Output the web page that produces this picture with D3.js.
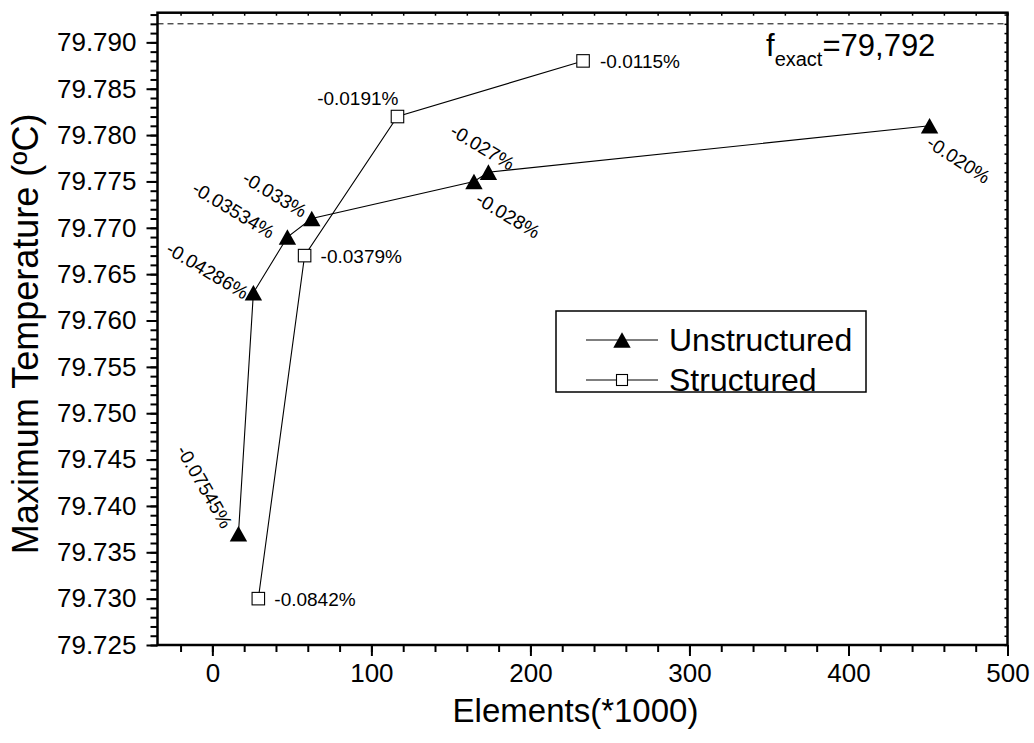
<!DOCTYPE html>
<html>
<head>
<meta charset="utf-8">
<script src="https://cdn.jsdelivr.net/npm/d3@7"></script>
<style>
  html, body { margin: 0; padding: 0; background: #fff; }
  svg { display: block; }
  text { font-family: "Liberation Sans", Arial, Helvetica, sans-serif; fill: #000; }
</style>
</head>
<body>
<svg id="chart" width="1034" height="743"></svg>
<script>
// Mesh convergence: maximum temperature vs. number of elements
const unstructuredElements = [16.4, 25.8, 47.2, 62.5, 164.5, 173.6, 451.0];
const unstructuredTemp     = [79.737, 79.763, 79.769, 79.771, 79.775, 79.776, 79.781];
const unstructuredError    = ["-0.07545%", "-0.04286%", "-0.03534%", "-0.033%", "-0.028%", "-0.027%", "-0.020%"];

const structuredElements = [28.9, 58.0, 116.4, 233.1];
const structuredTemp     = [79.730, 79.767, 79.782, 79.788];
const structuredError    = ["-0.0842%", "-0.0379%", "-0.0191%", "-0.0115%"];

const seriesNames = ["Unstructured", "Structured"];

const xTicks = [0, 100, 200, 300, 400, 500];
const yTicks = [79.725, 79.730, 79.735, 79.740, 79.745, 79.750, 79.755,
                79.760, 79.765, 79.770, 79.775, 79.780, 79.785, 79.790];

const exactTemp = 79.792;
const exactLabel = "79,792";

// Where each error annotation sits relative to its marker (pixels, degrees)
const unstructuredLabelPos = [
  { dx: -34, dy: -47, rot: 60 },
  { dx: -46, dy: -22, rot: 31 },
  { dx: -54, dy: -27, rot: 31 },
  { dx: -37, dy: -24, rot: 31 },
  { dx:  34, dy:  34, rot: 31 },
  { dx:  -6, dy: -25, rot: 31 },
  { dx:  29, dy:  34, rot: 33 }
];
const structuredLabelPos = [
  { dx: 16, dy: 1, anchor: "start" },
  { dx: 16, dy: 1, anchor: "start" },
  { dx: 1, dy: -18, anchor: "end" },
  { dx: 17, dy: 1, anchor: "start" }
];

const plot = { left: 157.5, right: 1007.5, top: 12.7, bottom: 645 };

const svg = d3.select("#chart");

const x = d3.scaleLinear().domain([-34.5, 500]).range([plot.left, plot.right]);
const y = d3.scaleLinear().domain([79.725, 79.7932]).range([plot.bottom, plot.top]);

// ---- axes ----
function styleAxis(g, width) {
  g.select(".domain").remove();
  g.selectAll(".tick line").attr("stroke", "#000").attr("stroke-width", width);
}
const fontFamily = '"Liberation Sans", Arial, sans-serif';

const minorY = d3.range(0, 69).map(i => 79.725 + i * 0.001);
const minorX = d3.range(-1, 26).map(i => i * 20);

// left: minor then major
svg.append("g").attr("transform", `translate(${plot.left},0)`)
  .call(d3.axisLeft(y).tickValues(minorY).tickSize(7).tickFormat(""))
  .call(g => styleAxis(g, 2));
svg.append("g").attr("transform", `translate(${plot.left},0)`)
  .call(d3.axisLeft(y).tickValues(yTicks).tickSize(11).tickPadding(10).tickFormat(d3.format(".3f")))
  .call(g => styleAxis(g, 2))
  .call(g => g.selectAll("text").attr("font-size", 26).style("font-family", fontFamily));

// bottom
svg.append("g").attr("transform", `translate(0,${plot.bottom})`)
  .call(d3.axisBottom(x).tickValues(minorX).tickSize(7).tickFormat(""))
  .call(g => styleAxis(g, 2));
svg.append("g").attr("transform", `translate(0,${plot.bottom})`)
  .call(d3.axisBottom(x).tickValues(xTicks).tickSize(11).tickPadding(8).tickFormat(d3.format("d")))
  .call(g => styleAxis(g, 2))
  .call(g => g.selectAll("text").attr("font-size", 26).style("font-family", fontFamily));

// top and right: short inward ticks
svg.append("g").attr("transform", `translate(0,${plot.top})`)
  .call(d3.axisTop(x).tickValues(minorX).tickSize(-3).tickFormat(""))
  .call(g => styleAxis(g, 1.5));
svg.append("g").attr("transform", `translate(${plot.right},0)`)
  .call(d3.axisRight(y).tickValues(minorY).tickSize(-3).tickFormat(""))
  .call(g => styleAxis(g, 1.5));

// frame
svg.append("rect")
  .attr("x", plot.left).attr("y", plot.top)
  .attr("width", plot.right - plot.left).attr("height", plot.bottom - plot.top)
  .attr("fill", "none").attr("stroke", "#000").attr("stroke-width", 2.5);

// exact value reference line
svg.append("line")
  .attr("x1", plot.left).attr("x2", plot.right)
  .attr("y1", y(exactTemp)).attr("y2", y(exactTemp))
  .attr("stroke", "#000").attr("stroke-width", 1).attr("stroke-dasharray", "6,4");

const fx = svg.append("text").attr("x", 766).attr("y", 56).attr("font-size", 31);
fx.append("tspan").text("f");
fx.append("tspan").attr("font-size", 20).attr("dy", 10).text("exact");
fx.append("tspan").attr("dy", -10).text("=" + exactLabel);

// axis titles
svg.append("text")
  .attr("transform", `translate(38,${(plot.top + plot.bottom) / 2 + 5}) rotate(-90)`)
  .attr("text-anchor", "middle").attr("font-size", 36)
  .text("Maximum Temperature (ºC)");
svg.append("text")
  .attr("x", (plot.left + plot.right) / 2 - 7).attr("y", 722)
  .attr("text-anchor", "middle").attr("font-size", 33)
  .text("Elements(*1000)");

// ---- series ----
const unstructured = unstructuredElements.map((e, i) => ({ e, t: unstructuredTemp[i], label: unstructuredError[i], pos: unstructuredLabelPos[i] }));
const structured = structuredElements.map((e, i) => ({ e, t: structuredTemp[i], label: structuredError[i], pos: structuredLabelPos[i] }));

const line = d3.line().x(d => x(d.e)).y(d => y(d.t));

const triW = 17.4, triH = 15.6, sq = 12.5;
const triPath = `M0,${-triH / 2}L${triW / 2},${triH / 2}L${-triW / 2},${triH / 2}Z`;

svg.append("path").datum(unstructured).attr("d", line)
  .attr("fill", "none").attr("stroke", "#000").attr("stroke-width", 1.1);
svg.append("path").datum(structured).attr("d", line)
  .attr("fill", "none").attr("stroke", "#000").attr("stroke-width", 1.1);

svg.append("g").selectAll("path").data(unstructured).join("path")
  .attr("transform", d => `translate(${x(d.e)},${y(d.t)})`)
  .attr("d", triPath).attr("fill", "#000");

svg.append("g").selectAll("rect").data(structured).join("rect")
  .attr("x", d => x(d.e) - sq / 2).attr("y", d => y(d.t) - sq / 2)
  .attr("width", sq).attr("height", sq)
  .attr("fill", "#fff").attr("stroke", "#000").attr("stroke-width", 1.1);

// error annotations
svg.append("g").selectAll("text").data(unstructured).join("text")
  .attr("transform", d => `translate(${x(d.e) + d.pos.dx},${y(d.t) + d.pos.dy}) rotate(${d.pos.rot})`)
  .attr("text-anchor", "middle").attr("dominant-baseline", "central")
  .attr("font-size", 19).text(d => d.label);

svg.append("g").selectAll("text").data(structured).join("text")
  .attr("x", d => x(d.e) + d.pos.dx).attr("y", d => y(d.t) + d.pos.dy)
  .attr("text-anchor", d => d.pos.anchor).attr("dominant-baseline", "central")
  .attr("font-size", 19).text(d => d.label);

// ---- legend ----
const legend = svg.append("g");
legend.append("rect").attr("x", 556).attr("y", 311).attr("width", 310).attr("height", 81)
  .attr("fill", "#fff").attr("stroke", "#000").attr("stroke-width", 1.5);
seriesNames.forEach((name, i) => {
  const ly = 340 + i * 40;
  legend.append("line").attr("x1", 586).attr("x2", 658).attr("y1", ly).attr("y2", ly)
    .attr("stroke", "#000").attr("stroke-width", 1.1);
  if (i === 0) {
    legend.append("path").attr("transform", `translate(622,${ly})`).attr("d", triPath).attr("fill", "#000");
  } else {
    legend.append("rect").attr("x", 622 - 5.5).attr("y", ly - 5.5).attr("width", 11).attr("height", 11)
      .attr("fill", "#fff").attr("stroke", "#000").attr("stroke-width", 1.1);
  }
  legend.append("text").attr("x", 669).attr("y", ly).attr("dominant-baseline", "central")
    .attr("font-size", 32).text(name);
});
</script>
</body>
</html>
